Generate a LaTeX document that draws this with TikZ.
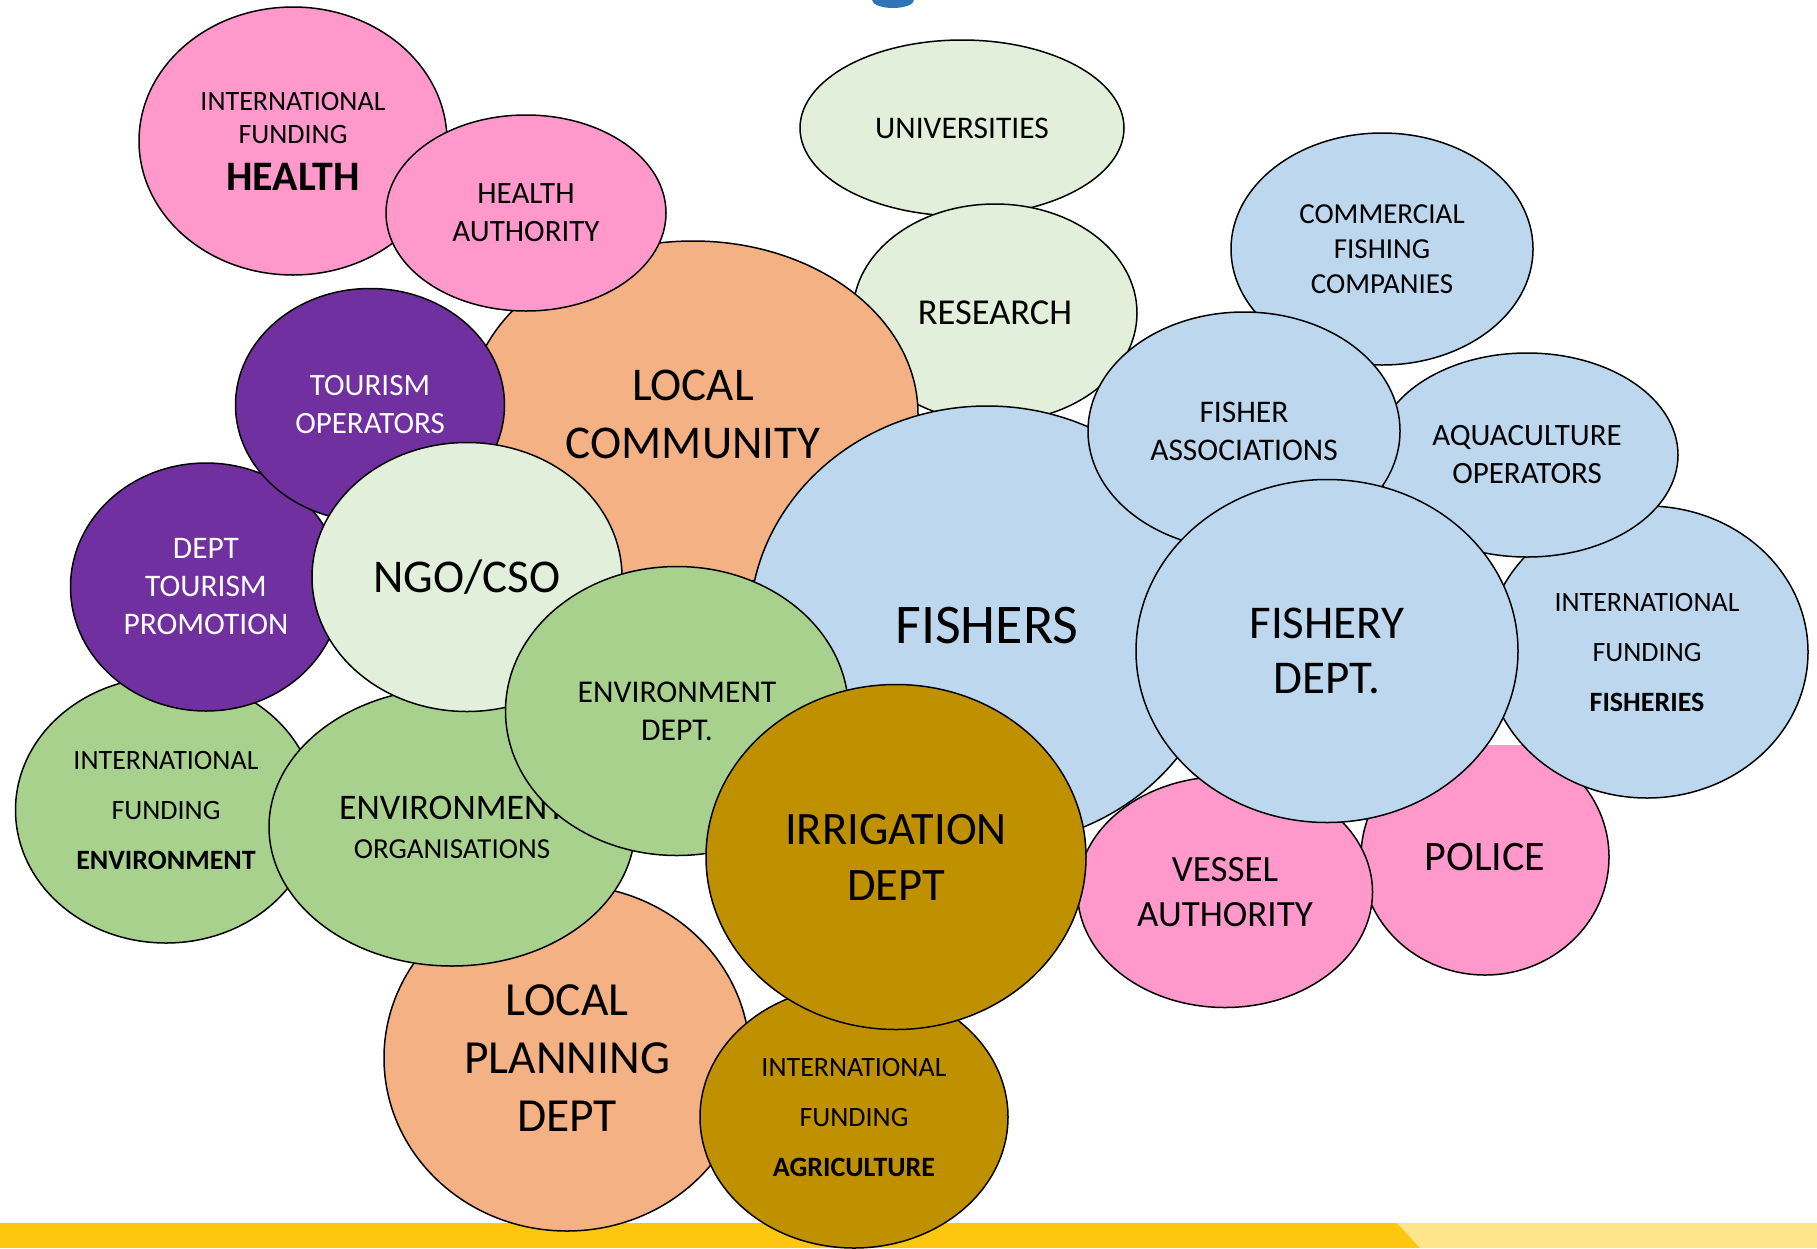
\documentclass[tikz,border=0pt]{standalone}
\usepackage{fontspec}
\setmainfont{Carlito}
\usepackage{tikz}
\usetikzlibrary{shapes.geometric}

\definecolor{pinkbub}{RGB}{255,153,204}
\definecolor{palegreen}{RGB}{226,239,218}
\definecolor{peach}{RGB}{244,177,131}
\definecolor{plum}{RGB}{112,48,160}
\definecolor{skyblue}{RGB}{189,215,238}
\definecolor{leafgreen}{RGB}{169,209,142}
\definecolor{mustard}{RGB}{191,144,0}
\definecolor{baryellow}{RGB}{255,198,16}
\definecolor{barlight}{RGB}{254,229,140}
\definecolor{titleblue}{RGB}{46,117,182}

\tikzset{bubble/.style={ellipse, draw=black, line width=1.5pt, inner sep=0pt, align=center}}

\begin{document}
\begin{tikzpicture}[x=1pt, y=-1pt]
    \useasboundingbox (0,0) rectangle (1817,1248);

    % Bandeau du bas
    \fill[baryellow] (0,1223) rectangle (1817,1248);
    \fill[barlight] (1397,1223) -- (1817,1223) -- (1817,1248) -- (1420,1248) -- cycle;
    % Reste du titre
    \fill[titleblue] (893,0) ellipse [x radius=21pt, y radius=8pt];

    % Bulles du haut
    \node[bubble, fill=palegreen, minimum width=324pt, minimum height=176pt, font=\fontsize{31.5}{38}\selectfont] (univ) at (962,128) {UNIVERSITIES};
    \node[bubble, fill=palegreen, minimum width=284pt, minimum height=218pt, font=\fontsize{36.5}{44}\selectfont] (research) at (995,313) {RESEARCH};
    \node[bubble, fill=peach, minimum width=450pt, minimum height=346pt, font=\fontsize{47}{58}\selectfont] (community) at (693,414) {LOCAL\\COMMUNITY};
    \node[bubble, fill=pinkbub, minimum width=308pt, minimum height=268pt, font=\fontsize{28}{33}\selectfont] (fundhealth) at (293,141)
        {INTERNATIONAL\\FUNDING\\[14pt]{\fontsize{42}{46}\selectfont\bfseries HEALTH}};
    \node[bubble, fill=pinkbub, minimum width=280pt, minimum height=196pt, font=\fontsize{31}{38}\selectfont] (healthauth) at (526,213) {HEALTH\\AUTHORITY};
    \node[bubble, fill=skyblue, minimum width=302pt, minimum height=232pt, font=\fontsize{29}{35}\selectfont] (companies) at (1382,249) {COMMERCIAL\\FISHING\\COMPANIES};

    % Bulles de gauche
    \node[bubble, fill=leafgreen, minimum width=301pt, minimum height=266pt, font=\fontsize{28}{50}\selectfont] (fundenv) at (166,810)
        {INTERNATIONAL\\FUNDING\\\textbf{ENVIRONMENT}};
    \node[bubble, fill=plum, text=white, minimum width=271pt, minimum height=248pt, font=\fontsize{31.4}{38}\selectfont] (tourdept) at (206,587) {DEPT\\TOURISM\\PROMOTION};
    \node[bubble, fill=plum, text=white, minimum width=269pt, minimum height=233pt, font=\fontsize{31}{38}\selectfont] (tourops) at (370,405) {TOURISM\\OPERATORS};
    \node[bubble, fill=peach, minimum width=366pt, minimum height=346pt, font=\fontsize{47.5}{58}\selectfont] (planning) at (567,1058) {LOCAL\\PLANNING\\DEPT};
    \node[bubble, fill=leafgreen, minimum width=366pt, minimum height=278pt, font=\fontsize{29}{39}\selectfont] (envorgs) at (452,827)
        {{\fontsize{36}{39}\selectfont ENVIRONMENT}\\ORGANISATIONS};
    \node[bubble, fill=palegreen, minimum width=310pt, minimum height=269pt, font=\fontsize{47}{56}\selectfont] (ngo) at (467,577) {NGO/CSO};

    % Bulles de droite
    \begin{scope}
        \clip (1300,745) rectangle (1700,1100);
        \node[bubble, fill=pinkbub, minimum width=248pt, minimum height=236pt, font=\fontsize{42}{50}\selectfont] (police) at (1485,857) {POLICE};
    \end{scope}
    \node[bubble, fill=skyblue, minimum width=322pt, minimum height=292pt, font=\fontsize{28}{50}\selectfont] (fundfish) at (1647,652)
        {INTERNATIONAL\\FUNDING\\\textbf{FISHERIES}};
    \node[bubble, fill=pinkbub, minimum width=295pt, minimum height=231pt, font=\fontsize{37}{45}\selectfont] (vessel) at (1225,892) {VESSEL\\AUTHORITY};
    \node[bubble, fill=skyblue, minimum width=475pt, minimum height=440pt, font=\fontsize{56}{66}\selectfont] (fishers) at (987,626) {FISHERS};
    \node[bubble, fill=skyblue, minimum width=302pt, minimum height=204pt, font=\fontsize{31}{38}\selectfont] (aqua) at (1527,455) {AQUACULTURE\\OPERATORS};
    \node[bubble, fill=skyblue, minimum width=312pt, minimum height=238pt, font=\fontsize{31.5}{38}\selectfont] (fishassoc) at (1244,431) {FISHER\\ASSOCIATIONS};
    \node[bubble, fill=skyblue, minimum width=382pt, minimum height=343pt, font=\fontsize{47}{55}\selectfont] (fishdept) at (1327,651) {FISHERY\\DEPT.};

    % Bulles du centre
    \node[bubble, fill=leafgreen, minimum width=343pt, minimum height=289pt, font=\fontsize{31.7}{38}\selectfont] (envdept) at (677,711) {ENVIRONMENT\\DEPT.};
    \node[bubble, fill=mustard, minimum width=308pt, minimum height=262pt, font=\fontsize{28}{50}\selectfont] (fundagri) at (854,1117)
        {INTERNATIONAL\\FUNDING\\\textbf{AGRICULTURE}};
    \node[bubble, fill=mustard, minimum width=380pt, minimum height=345pt, font=\fontsize{46.5}{56}\selectfont] (irrigation) at (896,857) {IRRIGATION\\DEPT};
\end{tikzpicture}
\end{document}
